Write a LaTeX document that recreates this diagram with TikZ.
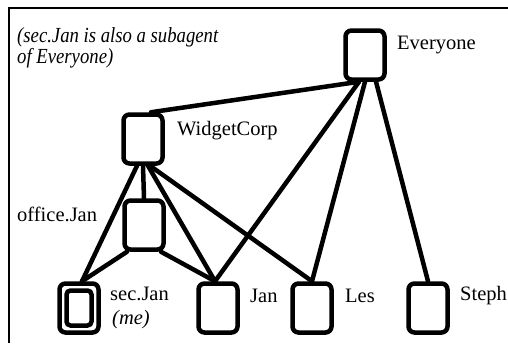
\documentclass[tikz,border=0pt]{standalone}
\usepackage{fontspec}
\setmainfont{Liberation Serif}
\begin{document}
\begin{tikzpicture}[x=1pt,y=-1pt,
  agent/.style={draw, line width=4.5pt, rounded corners=6pt, minimum width=39pt, minimum height=49pt, inner sep=0pt},
  lbl/.style={inner sep=0pt, anchor=west, font=\fontsize{20.5}{24}\selectfont},
  link/.style={line width=4.5pt, line cap=round}]
\useasboundingbox (0,0) rectangle (508,343);

% frame
\draw[line width=1.8pt] (9,343) -- (9,8) -- (508,8);

% note, set in a slightly condensed italic
\node[inner sep=0pt, anchor=north west, align=left, font=\fontsize{21.5}{21}\itshape] (note) at (17,27)
  {\scalebox{0.87}[1]{(sec.Jan is also a subagent}\\\scalebox{0.87}[1]{of Everyone)}};

% agents
\node[agent] (E) at (365,55) {};
\node[agent] (W) at (143,139) {};
\node[agent] (O) at (144,225) {};
\node[agent] (S) at (79,308) {};
\node[draw, line width=4.5pt, rounded corners=4pt, minimum width=25pt, minimum height=35pt, inner sep=0pt] (Sin) at (S.center) {};
\node[agent] (J) at (218,308) {};
\node[agent] (L) at (312,308) {};
\node[agent] (T) at (428,308) {};

% labels
\node[lbl] (tE) at (397,45) {Everyone};
\node[lbl] (tW) at (177,131) {WidgetCorp};
\node[lbl] (tO) at (17,214) {office.Jan};
\node[lbl] (tS) at (110,294) {sec.Jan};
\node[lbl, font=\fontsize{20.5}{24}\itshape] (tMe) at (112,320) {(me)};
\node[lbl] (tJ) at (250,296) {Jan};
\node[lbl] (tL) at (345,296) {Les};
\node[lbl] (tT) at (460,296) {Steph};

% subagent links
\draw[link] ([xshift=-6pt]E.south) -- ([xshift=8pt]W.north);
\draw[link] ([xshift=-6pt]E.south) -- ([xshift=-3pt]J.north);
\draw[link] (E.south) -- (L.north);
\draw[link] ([xshift=11pt]E.south) -- (T.north);
\draw[link] ([xshift=-6pt]W.south) -- ([xshift=3pt]S.north);
\draw[link] (W.south) -- (O.north);
\draw[link] ([xshift=5pt]W.south) -- ([xshift=-3pt]J.north);
\draw[link] ([xshift=7pt]W.south) -- (L.north);
\draw[link] ([xshift=-17pt]O.south) -- ([xshift=3pt]S.north);
\draw[link] ([xshift=17pt]O.south) -- ([xshift=-3pt]J.north);
\end{tikzpicture}
\end{document}
